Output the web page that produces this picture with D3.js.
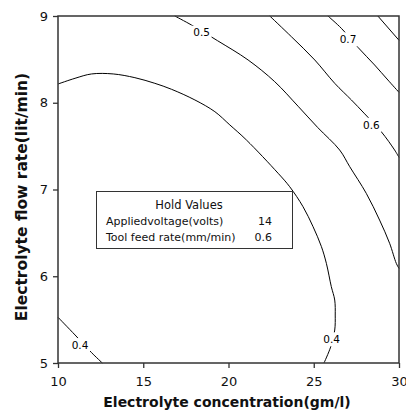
<!DOCTYPE html>
<html>
<head>
<meta charset="utf-8">
<script src="https://cdn.jsdelivr.net/npm/d3@7"></script>
<style>
  html, body { margin: 0; padding: 0; background: #fff; }
  svg { display: block; font-family: "DejaVu Sans", sans-serif; }
</style>
</head>
<body>
<svg id="chart" width="406" height="411"></svg>
<script>
// ---- data ----
const xTicks = [10, 15, 20, 25, 30];
const yTicks = [5, 6, 7, 8, 9];
const xDomain = [10, 30];
const yDomain = [5, 9];

// contour lines: [x, y] points in data units
const contour04a = [[10, 8.216], [11.0, 8.282], [11.97, 8.332], [13.24, 8.332], [14.51, 8.289],
  [15.68, 8.224], [16.66, 8.155], [18.03, 8.032], [19.20, 7.897], [20.08, 7.744], [21.05, 7.571],
  [22.91, 7.187], [23.59, 7.032], [24.37, 6.802], [24.96, 6.571], [25.45, 6.341], [25.74, 6.149],
  [26.03, 5.880], [26.23, 5.726], [26.26, 5.553], [26.23, 5.380], [25.99, 5.184], [25.60, 5.0]];
const contour04b = [[10, 5.527], [11.0, 5.323], [11.97, 5.119], [12.6, 5.0]];
const contour05 = [[16.85, 9], [17.83, 8.896], [19.36, 8.715], [21.15, 8.493],
  [22.71, 8.243], [24.08, 7.960], [25.23, 7.715], [26.52, 7.455], [27.11, 7.263], [28.08, 6.956],
  [28.86, 6.648], [29.45, 6.380], [29.84, 6.149], [30, 6.09]];
const contour06 = [[22.42, 9], [23.69, 8.761], [25.06, 8.493], [26.23, 8.224], [27.21, 8.032],
  [27.95, 7.880], [28.96, 7.666], [29.74, 7.456], [30, 7.37]];
const contour07 = [[25.83, 9], [26.62, 8.858], [27.59, 8.639], [28.57, 8.435], [29.35, 8.262], [30, 8.12]];
const contour08 = [[28.76, 9], [30, 8.72]];
const contours = [contour04a, contour04b, contour05, contour06, contour07, contour08];

// contour labels: [text, x, y]
const contourLabels = [["0.5", 18.42, 8.808], ["0.7", 27.01, 8.731], ["0.6", 28.38, 7.744],
  ["0.4", 26.05, 5.273], ["0.4", 11.29, 5.207]];

const holdTitle = "Hold Values";
const holdNames = ["Appliedvoltage(volts)", "Tool feed rate(mm/min)"];
const holdValues = ["14", "0.6"];

const xTitle = "Electrolyte concentration(gm/l)";
const yTitle = "Electrolyte flow rate(lit/min)";

// ---- layout ----
const W = 406, H = 411;
const m = { left: 58, right: 7, top: 16, bottom: 48 };
const svg = d3.select("#chart");

const x = d3.scaleLinear().domain(xDomain).range([m.left, W - m.right]);
const y = d3.scaleLinear().domain(yDomain).range([H - m.bottom, m.top]);

// contours
const line = d3.line().x(d => x(d[0])).y(d => y(d[1])).curve(d3.curveCatmullRom.alpha(0.5));
svg.append("g").selectAll("path").data(contours).join("path")
  .attr("d", line).attr("fill", "none").attr("stroke", "#000").attr("stroke-width", 1);

// contour labels with white gap
const lg = svg.append("g").selectAll("g").data(contourLabels).join("g")
  .attr("transform", d => `translate(${x(d[1])},${y(d[2])})`);
lg.append("rect").attr("x", -10).attr("y", -7).attr("width", 20).attr("height", 14).attr("fill", "#fff");
lg.append("text").text(d => d[0]).attr("text-anchor", "middle").attr("dy", "0.36em")
  .attr("font-size", 10.5).attr("fill", "#000");

// axes
const axisColor = "#333";
const gx = svg.append("g").attr("transform", `translate(0,${H - m.bottom})`)
  .call(d3.axisBottom(x).tickValues(xTicks).tickSize(5).tickSizeOuter(0).tickPadding(9).tickFormat(d3.format("d")));
const gy = svg.append("g").attr("transform", `translate(${m.left},0)`)
  .call(d3.axisLeft(y).tickValues(yTicks).tickSize(5).tickSizeOuter(0).tickPadding(5).tickFormat(d3.format("d")));
[gx, gy].forEach(g => {
  g.select(".domain").remove();
  g.selectAll("line").attr("stroke", axisColor).attr("stroke-width", 1.3);
  g.selectAll("text").attr("font-family", "DejaVu Sans").attr("font-size", 13).attr("fill", "#111");
});

// frame
svg.append("rect").attr("x", m.left).attr("y", m.top)
  .attr("width", W - m.left - m.right).attr("height", H - m.top - m.bottom)
  .attr("fill", "none").attr("stroke", axisColor).attr("stroke-width", 1.5);

// axis titles
svg.append("text").text(xTitle).attr("x", 227).attr("y", 407)
  .attr("text-anchor", "middle").attr("font-weight", "bold").attr("font-size", 14).attr("fill", "#111");
svg.append("text").text(yTitle)
  .attr("transform", "translate(27,197) rotate(-90)")
  .attr("text-anchor", "middle").attr("font-weight", "bold").attr("font-size", 15.5).attr("fill", "#111");

// hold values box
const hb = svg.append("g");
hb.append("rect").attr("x", 96.5).attr("y", 191.5).attr("width", 196).attr("height", 57)
  .attr("fill", "#fff").attr("stroke", "#333").attr("stroke-width", 1);
hb.append("text").text(holdTitle).attr("x", 189).attr("y", 205).attr("dy", "0.35em")
  .attr("text-anchor", "middle").attr("font-size", 11.5).attr("fill", "#111");
holdNames.forEach((n, i) => {
  hb.append("text").text(n).attr("x", 106).attr("y", 221 + i * 15.7).attr("dy", "0.35em")
    .attr("font-size", 11).attr("fill", "#111");
  hb.append("text").text(holdValues[i]).attr("x", 272).attr("y", 221 + i * 15.7).attr("dy", "0.35em")
    .attr("text-anchor", "end").attr("font-size", 11).attr("fill", "#111");
});
</script>
</body>
</html>
